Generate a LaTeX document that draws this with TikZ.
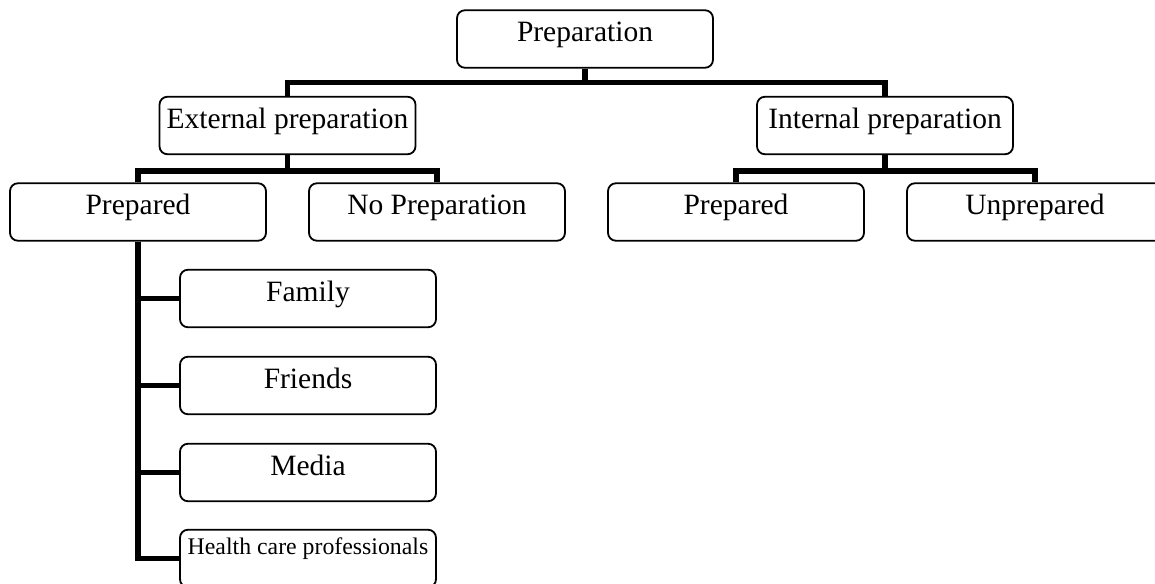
\documentclass[tikz,border=0pt]{standalone}
\usepackage{fontspec}
\setmainfont{Liberation Serif}
\begin{document}
\begin{tikzpicture}[x=1pt, y=-1pt,
  box/.style={draw=black, line width=1.8pt, rounded corners=8pt, fill=white,
    minimum width=256pt, minimum height=57.5pt, inner sep=0pt,
    font=\fontsize{29.5}{35}\selectfont, text height=20pt, text depth=14.4pt},
  smallbox/.style={box, font=\fontsize{23.8}{28}\selectfont,
    text height=16pt, text depth=25pt},
  conn/.style={draw=black, line width=5.5pt}]
  \clip (0,0) rectangle (1155,583);
  \fill[white] (0,0) rectangle (1155,583);

  % tree levels
  \node[box] (prep)    at (585,39)      {Preparation};
  \node[box] (ext)     at (287.5,125.5) {External preparation};
  \node[box] (int)     at (885,125.5)   {Internal preparation};
  \node[box] (prepL)   at (138,212)     {Prepared};
  \node[box] (noprep)  at (437,212)     {No Preparation};
  \node[box] (prepR)   at (736,212)     {Prepared};
  \node[box] (unprep)  at (1035,212)    {Unprepared};
  \node[box] (family)  at (308,298.5)   {Family};
  \node[box] (friends) at (308,385.5)   {Friends};
  \node[box] (media)   at (308,472.5)   {Media};
  \node[smallbox] (health) at (308,558.5) {Health care professionals};

  % connectors: elbow lines from each parent to its children
  \draw[conn] (prep.south) -- ++(0,14) -| (ext.north);
  \draw[conn] (prep.south) -- ++(0,14) -| (int.north);
  \draw[conn] (ext.south) -- ++(0,16) -| (prepL.north);
  \draw[conn] (ext.south) -- ++(0,16) -| (noprep.north);
  \draw[conn] (int.south) -- ++(0,16) -| (prepR.north);
  \draw[conn] (int.south) -- ++(0,16) -| (unprep.north);
  \draw[conn] (prepL.south) |- (family.west);
  \draw[conn] (prepL.south) |- (friends.west);
  \draw[conn] (prepL.south) |- (media.west);
  \draw[conn] (prepL.south) |- (health.west);
\end{tikzpicture}
\end{document}
